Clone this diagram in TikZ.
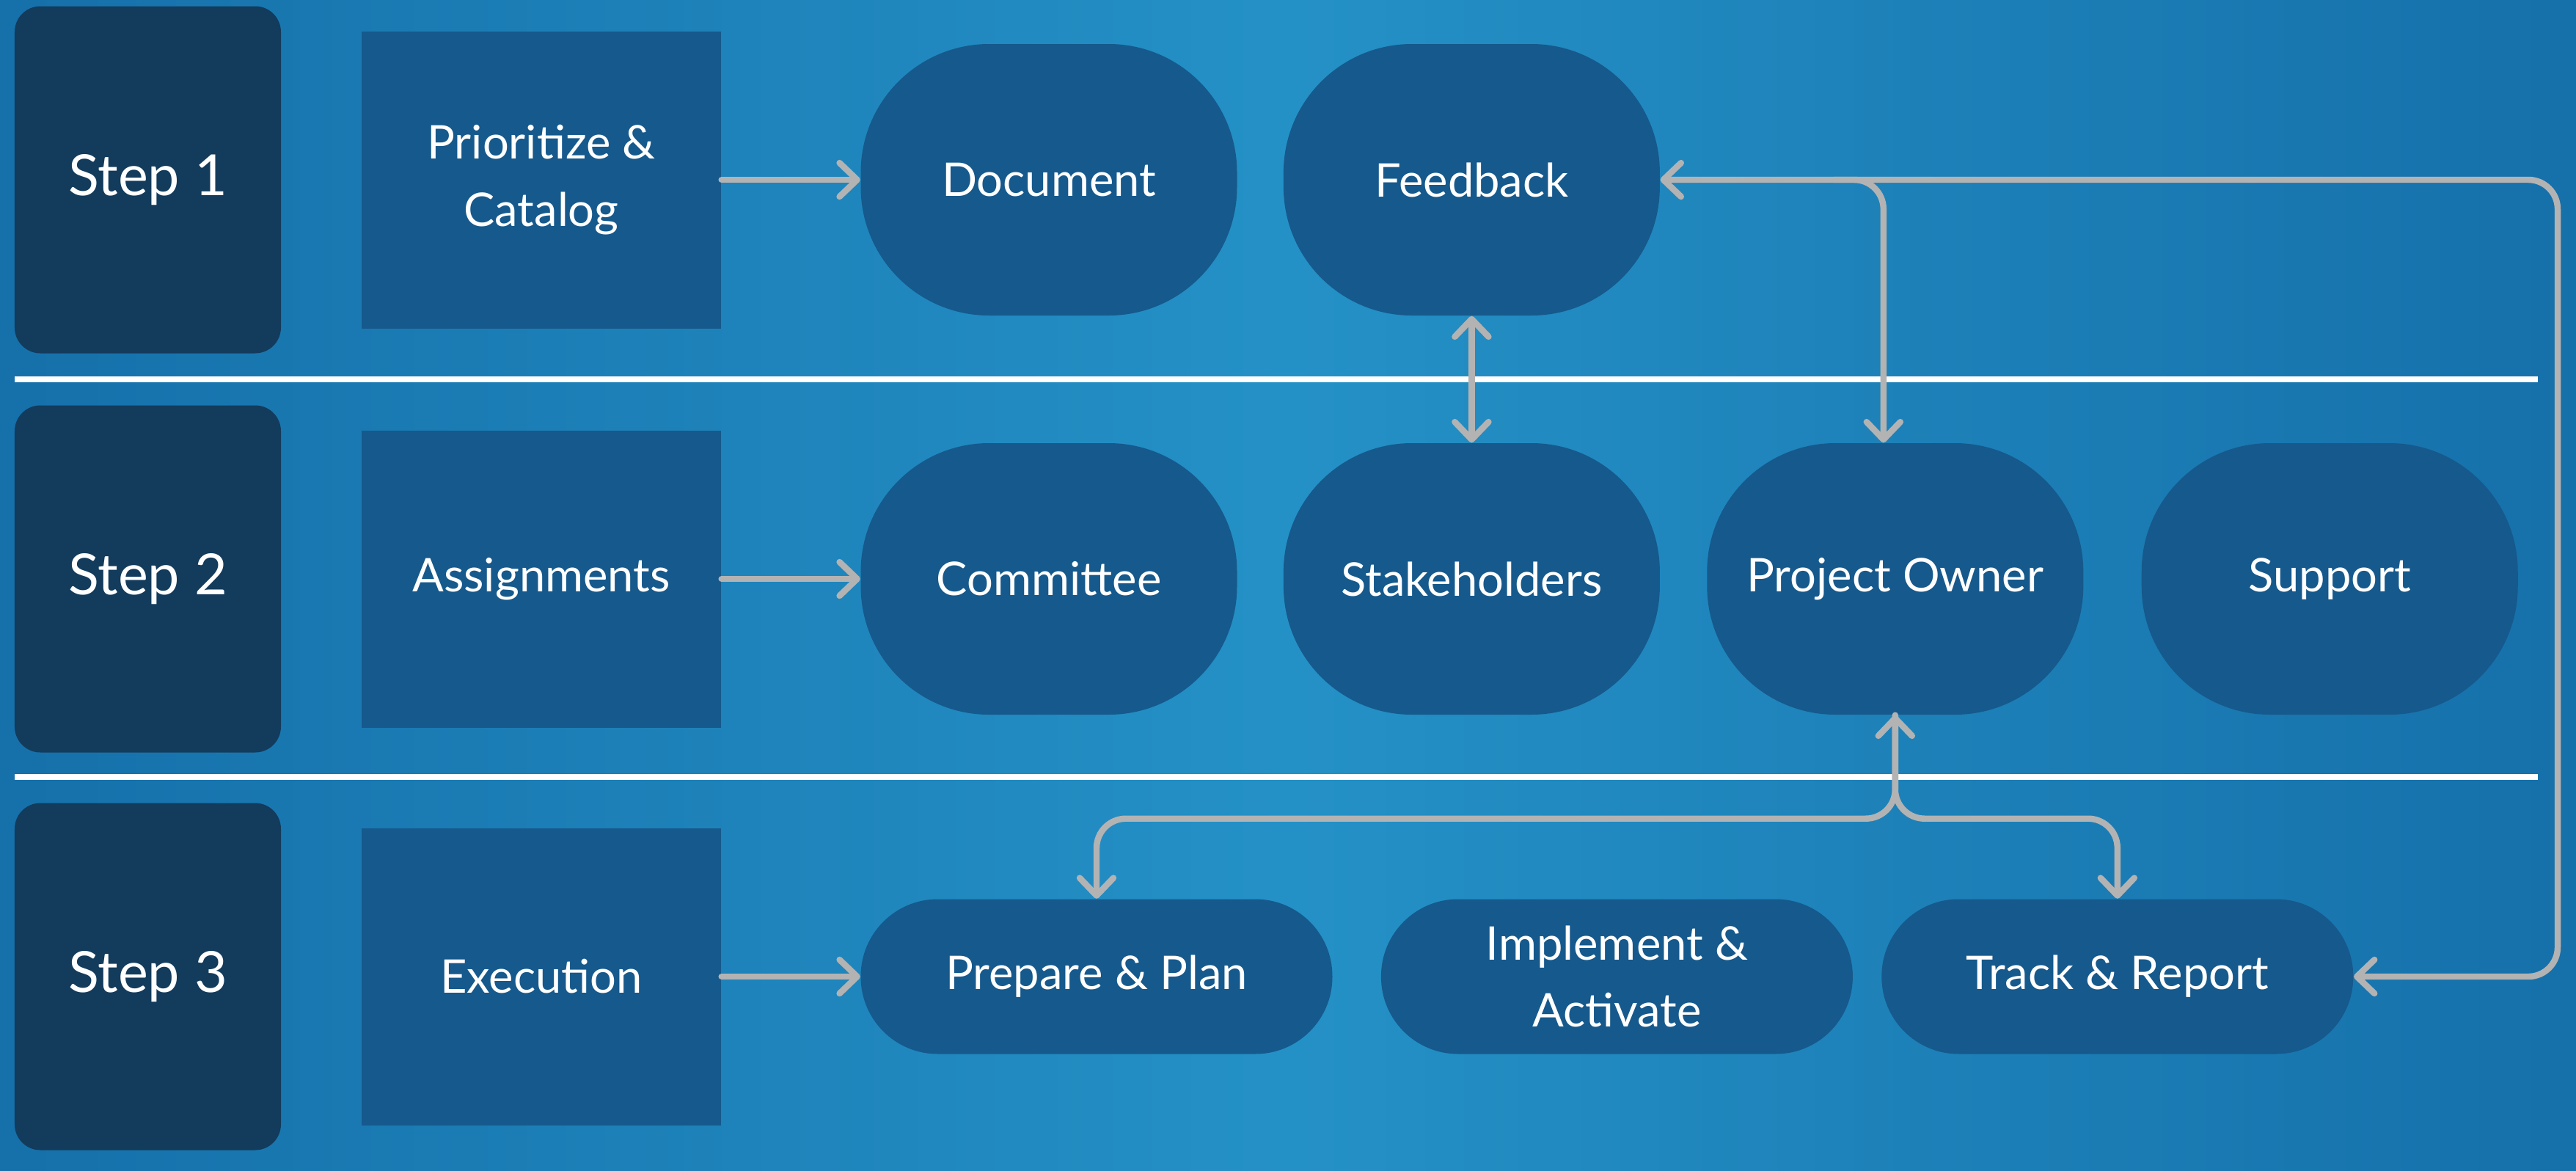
\documentclass[tikz,border=0pt]{standalone}
\usepackage{fontspec}
\setmainfont{Lato}
\usetikzlibrary{positioning, calc, arrows.meta, shapes}
\definecolor{bgdark}{HTML}{1670AA}
\definecolor{bglight}{HTML}{2491C6}
\definecolor{stepblue}{HTML}{133B5C}
\definecolor{boxblue}{HTML}{16598C}
\definecolor{linegray}{HTML}{B3B3B3}

\begin{document}
\begin{tikzpicture}
    \tikzstyle{stepbox} = [rectangle, rounded corners=0.35cm, minimum width=3.63cm, minimum height=4.73cm, inner sep=0pt, text centered, fill=stepblue, text=white, font=\fontsize{22}{28}\selectfont]
    \tikzstyle{taskbox} = [rectangle, minimum width=4.9cm, minimum height=4.05cm, inner sep=0pt, align=center, fill=boxblue, text=white, font=\fontsize{18}{26}\selectfont]
    \tikzstyle{roundbox} = [rectangle, rounded corners=1.75cm, minimum width=5.13cm, minimum height=3.7cm, inner sep=0pt, align=center, fill=boxblue, text=white, font=\fontsize{18}{26}\selectfont]
    \tikzstyle{pill} = [rectangle, rounded corners=1.05cm, minimum width=6.43cm, minimum height=2.11cm, inner sep=0pt, align=center, fill=boxblue, text=white, font=\fontsize{18}{26}\selectfont]
    \tikzstyle{arrow} = [line width=2.4pt, draw=linegray, line cap=round, rounded corners=0.4cm, >={Straight Barb[length=2.4mm, width=4.6mm, round]}, ->]
    \tikzstyle{divider} = [line width=2.4pt, white]
    % background
    \shade[left color=bgdark, right color=bgdark, middle color=bglight] (0,0) rectangle (35.12,-15.96);
    \useasboundingbox (0,0) rectangle (35.12,-15.96);
    % row dividers
    \draw [divider] (0.2,-5.17) -- (34.6,-5.17);
    \draw [divider] (0.2,-10.59) -- (34.6,-10.59);
    % step 1
    \node (step1) [stepbox] at (2.015,-2.45) {Step 1};
    \node (prio) [taskbox] at (7.38,-2.45) {Prioritize \&\\Catalog};
    \node (document) [roundbox] at (14.30,-2.45) {Document};
    \node (feedback) [roundbox, right=0.62cm of document] {Feedback};
    % step 2
    \node (step2) [stepbox] at (2.015,-7.89) {Step 2};
    \node (assign) [taskbox] at (7.38,-7.89) {Assignments};
    \node (committee) [roundbox] at (14.30,-7.89) {Committee};
    \node (stake) [roundbox, right=0.62cm of committee] {Stakeholders};
    \node (owner) [roundbox, right=0.63cm of stake] {Project Owner};
    \node (support) [roundbox, right=0.78cm of owner] {Support};
    % step 3
    \node (step3) [stepbox] at (2.015,-13.31) {Step 3};
    \node (exec) [taskbox] at (7.38,-13.31) {Execution};
    \node (prepare) [pill] at (14.95,-13.31) {Prepare \& Plan};
    \node (implement) [pill, right=0.65cm of prepare] {Implement \&\\Activate};
    \node (track) [pill, right=0.38cm of implement] {Track \& Report};
    % helper points
    \coordinate (loop) at (34.87,-2.45);
    \coordinate (split) at (25.0,-2.45);
    \coordinate (fork) at ($(owner.south)+(0,-1.41)$);
    % connectors
    \draw [arrow] (prio) -- (document);
    \draw [arrow] (assign) -- (committee);
    \draw [arrow] (exec) -- (prepare);
    \draw [arrow, <->] (feedback) -- (stake);
    \draw [arrow, <->] (feedback.east) -- (loop) |- (track.east);
    \draw [arrow] (split) -| ([xshift=-1.6mm]owner.north);
    \draw [arrow, <->] (prepare.north) |- (fork) -- (owner.south);
    \draw [arrow] (owner.south) -- (fork) -| (track.north);
\end{tikzpicture}
\end{document}
